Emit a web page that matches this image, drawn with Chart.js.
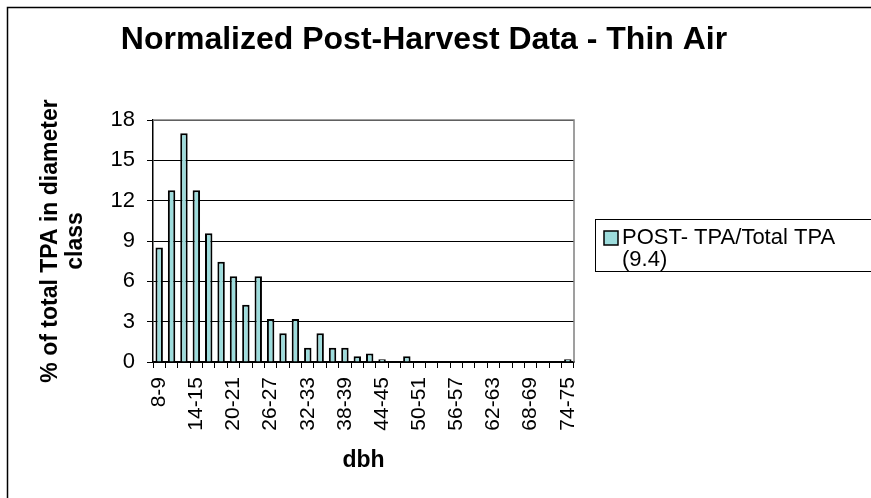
<!DOCTYPE html>
<html>
<head>
<meta charset="utf-8">
<script src="https://cdn.jsdelivr.net/npm/chart.js@4/dist/chart.umd.min.js"></script>
<style>
  html, body { margin: 0; padding: 0; background: #fff; }
  #wrap { width: 871px; height: 498px; }
</style>
</head>
<body>
<div id="wrap"><canvas id="chart" width="871" height="498"></canvas></div>
<script>
// dbh classes (inches)
const dbhClasses = [
  "8-9", "10-11", "12-13", "14-15", "16-17", "18-19", "20-21", "22-23", "24-25",
  "26-27", "28-29", "30-31", "32-33", "34-35", "36-37", "38-39", "40-41", "42-43",
  "44-45", "46-47", "48-49", "50-51", "52-53", "54-55", "56-57", "58-59", "60-61",
  "62-63", "64-65", "66-67", "68-69", "70-71", "72-73", "74-75"
];

// % of total TPA per class
const postPct = [
  8.51, 12.77, 17.02, 12.77, 9.57, 7.45, 6.38, 4.26, 6.38,
  3.19, 2.13, 3.19, 1.06, 2.13, 1.06, 1.06, 0.43, 0.64,
  0.21, 0, 0.43, 0, 0, 0, 0, 0, 0,
  0, 0, 0, 0, 0, 0, 0.21
];

const yTicks = [0, 3, 6, 9, 12, 15, 18];
const chartTitle = "Normalized Post-Harvest Data - Thin Air";
const seriesLabel = ["POST- TPA/Total TPA", "(9.4)"];

const FONT = "'Liberation Sans', Arial, sans-serif";
const BAR_FILL = "#9ddcdc";

// title, frame, outer border and legend box (excel-like)
const decor = {
  id: "decor",
  beforeDatasetsDraw(chart) {
    const a = chart.chartArea;
    const ctx = chart.ctx;
    ctx.save();
    ctx.strokeStyle = "#808080";
    ctx.lineWidth = 1.5;
    ctx.beginPath();
    ctx.moveTo(a.left, a.top);
    ctx.lineTo(a.right, a.top);
    ctx.lineTo(a.right, a.bottom);
    ctx.stroke();
    ctx.restore();
  },
  afterDraw(chart) {
    const ctx = chart.ctx;
    ctx.save();
    // outer chart border
    ctx.strokeStyle = "#000";
    ctx.lineWidth = 1.5;
    ctx.strokeRect(7.5, 7.5, 900, 600);

    // title, centred on the whole chart box
    ctx.fillStyle = "#000";
    ctx.font = "bold 32px " + FONT;
    ctx.textAlign = "center";
    ctx.textBaseline = "middle";
    ctx.fillText(chartTitle, 424, 40);

    // legend
    const bx = 595.5, by = 219.5;
    ctx.lineWidth = 1;
    ctx.strokeRect(bx, by, 400, 52);
    ctx.fillStyle = BAR_FILL;
    ctx.fillRect(604, 231, 14, 14);
    ctx.strokeStyle = "#000";
    ctx.lineWidth = 1.5;
    ctx.strokeRect(604, 231, 14, 14);
    ctx.fillStyle = "#000";
    ctx.font = "22px " + FONT;
    ctx.textAlign = "left";
    ctx.fillText(seriesLabel[0], 622, 238);
    ctx.fillText(seriesLabel[1], 622, 260);
    ctx.restore();
  }
};

new Chart(document.getElementById("chart"), {
  type: "bar",
  data: {
    labels: dbhClasses,
    datasets: [{
      label: seriesLabel.join(" "),
      data: postPct,
      backgroundColor: BAR_FILL,
      borderColor: "#000",
      borderWidth: 2,
      barPercentage: 0.6,
      categoryPercentage: 1
    }]
  },
  options: {
    responsive: false,
    animation: false,
    layout: { padding: { left: 10, right: 297, top: 120, bottom: 10 } },
    plugins: {
      legend: { display: false },
      tooltip: { enabled: false },
      title: { display: false }
    },
    scales: {
      x: {
        afterFit(s) { s.height = 126; },
        grid: {
          offset: true,
          drawOnChartArea: false,
          drawTicks: true,
          tickLength: 6,
          color: "#000"
        },
        border: { color: "#000", width: 1.5 },
        ticks: {
          autoSkip: false,
          minRotation: 90,
          maxRotation: 90,
          padding: 9,
          color: "#000",
          font: { family: FONT, size: 21 },
          callback: function (v, i) { return i % 3 === 0 ? dbhClasses[i] : ""; }
        },
        title: {
          display: true,
          text: "dbh",
          color: "#000",
          font: { family: FONT, size: 23, weight: "bold", lineHeight: 1.2 },
          padding: { top: 0, bottom: 14 }
        }
      },
      y: {
        min: 0,
        max: 18,
        afterFit(s) { s.width = 143; },
        afterBuildTicks(s) { s.ticks = yTicks.map(function (v) { return { value: v }; }); },
        grid: { color: "#000", lineWidth: 1, tickLength: 6 },
        border: { color: "#000", width: 1.5 },
        ticks: {
          padding: 12,
          color: "#000",
          font: { family: FONT, size: 22 }
        },
        title: {
          display: true,
          text: ["% of total TPA in diameter", "class"],
          color: "#000",
          font: { family: FONT, size: 23, weight: "bold", lineHeight: 1.1 },
          padding: { top: 28, bottom: 0 }
        }
      }
    }
  },
  plugins: [decor]
});
</script>
</body>
</html>
